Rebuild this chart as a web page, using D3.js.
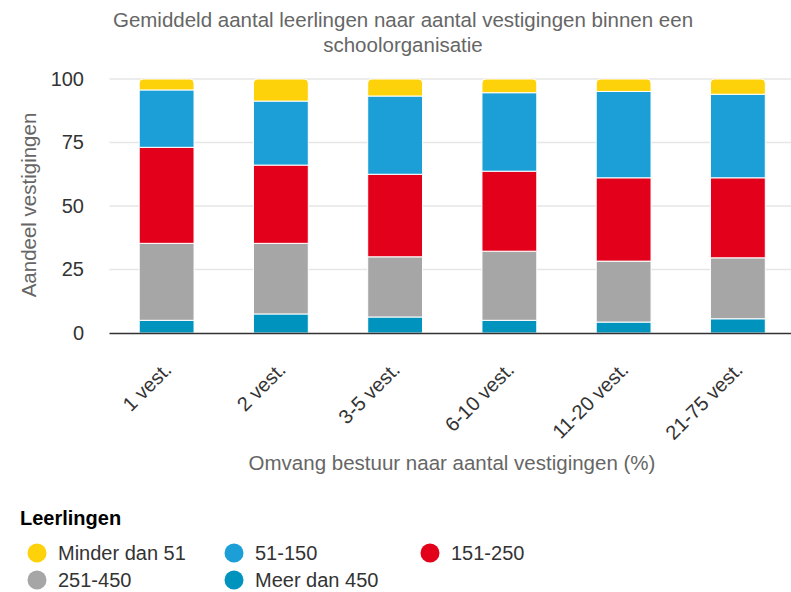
<!DOCTYPE html>
<html>
<head>
<meta charset="utf-8">
<script src="https://cdn.jsdelivr.net/npm/d3@7"></script>
<style>
  body { margin: 0; background: #fff; }
  svg { font-family: "Liberation Sans", Arial, sans-serif; }
</style>
</head>
<body>
<svg width="791" height="592"></svg>
<script>
const categories = ['1 vest.', '2 vest.', '3-5 vest.', '6-10 vest.', '11-20 vest.', '21-75 vest.'];
// stacked bottom -> top
const seriesNames = ['Meer dan 450', '251-450', '151-250', '51-150', 'Minder dan 51'];
const meerDan450 = [5.0, 7.5, 6.3, 5.0, 4.3, 5.6];
const s251_450 = [30.3, 27.8, 23.7, 27.2, 24.0, 24.0];
const s151_250 = [37.8, 30.8, 32.5, 31.5, 32.8, 31.5];
const s51_150 = [22.6, 25.2, 30.8, 30.9, 34.0, 32.9];
const minderDan51 = [4.3, 8.7, 6.7, 5.4, 4.9, 6.0];
const yTicks = [0, 25, 50, 75, 100];

const colors = {
  'Minder dan 51': '#fdd20a',
  '51-150': '#1b9fd6',
  '151-250': '#e2001a',
  '251-450': '#a6a6a6',
  'Meer dan 450': '#0093be'
};
const legendOrder = ['Minder dan 51', '51-150', '151-250', '251-450', 'Meer dan 450'];

const values = [meerDan450, s251_450, s151_250, s51_150, minderDan51];
const rows = categories.map((c, i) => {
  const r = { cat: c };
  seriesNames.forEach((s, j) => { r[s] = values[j][i]; });
  return r;
});

const svg = d3.select('svg');
const plotLeft = 109.5, plotRight = 795, plotTop = 79, plotBottom = 333;

const x = d3.scaleBand().domain(categories).range([plotLeft, plotRight]).paddingInner(0.52).paddingOuter(0.26);
const y = d3.scaleLinear().domain([0, 100]).range([plotBottom, plotTop]);

// gridlines
svg.append('g')
  .selectAll('line')
  .data(yTicks.filter(d => d > 0))
  .join('line')
  .attr('x1', plotLeft).attr('x2', 791)
  .attr('y1', d => y(d)).attr('y2', d => y(d))
  .attr('stroke', '#e6e6e6')
  .attr('stroke-width', 1.5);

// y axis labels
const yAxis = svg.append('g')
  .attr('transform', `translate(${plotLeft},0)`)
  .call(d3.axisLeft(y).tickValues(yTicks).tickSize(0).tickPadding(25.5));
yAxis.select('.domain').remove();
yAxis.selectAll('text')
  .attr('font-size', 20)
  .attr('fill', '#333')
  .attr('font-family', '"Liberation Sans", Arial, sans-serif');

// stacked bars
const stack = d3.stack().keys(seriesNames);
const stacked = stack(rows);

const rad = 4;
function roundTop(x0, y0, w, h) {
  const r = Math.min(rad, h);
  return `M${x0},${y0 + h}V${y0 + r}Q${x0},${y0} ${x0 + r},${y0}H${x0 + w - r}Q${x0 + w},${y0} ${x0 + w},${y0 + r}V${y0 + h}Z`;
}

svg.append('g')
  .selectAll('g')
  .data(stacked)
  .join('g')
  .attr('fill', d => colors[d.key])
  .each(function(layer, li) {
    const isTop = li === stacked.length - 1;
    d3.select(this).selectAll('path')
      .data(layer)
      .join('path')
      .attr('d', d => {
        const x0 = x(d.data.cat), w = x.bandwidth();
        const y0 = y(d[1]), h = y(d[0]) - y(d[1]);
        return isTop ? roundTop(x0, y0, w, h) : `M${x0},${y0}h${w}v${h}h${-w}Z`;
      })
      .attr('stroke', '#fff')
      .attr('stroke-width', 1);
  });

// x axis line
svg.append('line')
  .attr('x1', plotLeft).attr('x2', 791)
  .attr('y1', plotBottom + 0.5).attr('y2', plotBottom + 0.5)
  .attr('stroke', '#333')
  .attr('stroke-width', 1.5);

// x labels
svg.append('g')
  .selectAll('text')
  .data(categories)
  .join('text')
  .attr('transform', d => `translate(${x(d) + x.bandwidth() / 2 + 1},${366}) rotate(-45)`)
  .attr('text-anchor', 'end')
  .attr('dy', '0.35em')
  .attr('font-size', 20)
  .attr('fill', '#333')
  .text(d => d);

// titles
const title = svg.append('text')
  .attr('text-anchor', 'middle')
  .attr('font-size', 20.5)
  .attr('fill', '#666');
title.append('tspan').attr('x', 403).attr('y', 27).text('Gemiddeld aantal leerlingen naar aantal vestigingen binnen een');
title.append('tspan').attr('x', 403).attr('y', 52).text('schoolorganisatie');

svg.append('text')
  .attr('transform', 'translate(36,205) rotate(-90)')
  .attr('text-anchor', 'middle')
  .attr('font-size', 20.5)
  .attr('fill', '#666')
  .text('Aandeel vestigingen');

svg.append('text')
  .attr('x', 452).attr('y', 470)
  .attr('text-anchor', 'middle')
  .attr('font-size', 20.5)
  .attr('fill', '#666')
  .text('Omvang bestuur naar aantal vestigingen (%)');

// legend
svg.append('text')
  .attr('x', 20).attr('y', 525)
  .attr('font-size', 20)
  .attr('font-weight', 'bold')
  .attr('fill', '#000')
  .text('Leerlingen');

const colX = [37, 234, 430];
const rowY = [553, 580];
const legend = svg.append('g')
  .selectAll('g')
  .data(legendOrder)
  .join('g')
  .attr('transform', (d, i) => `translate(${colX[i % 3]},${rowY[Math.floor(i / 3)]})`);
legend.append('circle').attr('r', 9.5).attr('fill', d => colors[d]);
legend.append('text')
  .attr('x', 21).attr('dy', '0.35em')
  .attr('font-size', 20)
  .attr('fill', '#333')
  .text(d => d);
</script>
</body>
</html>
